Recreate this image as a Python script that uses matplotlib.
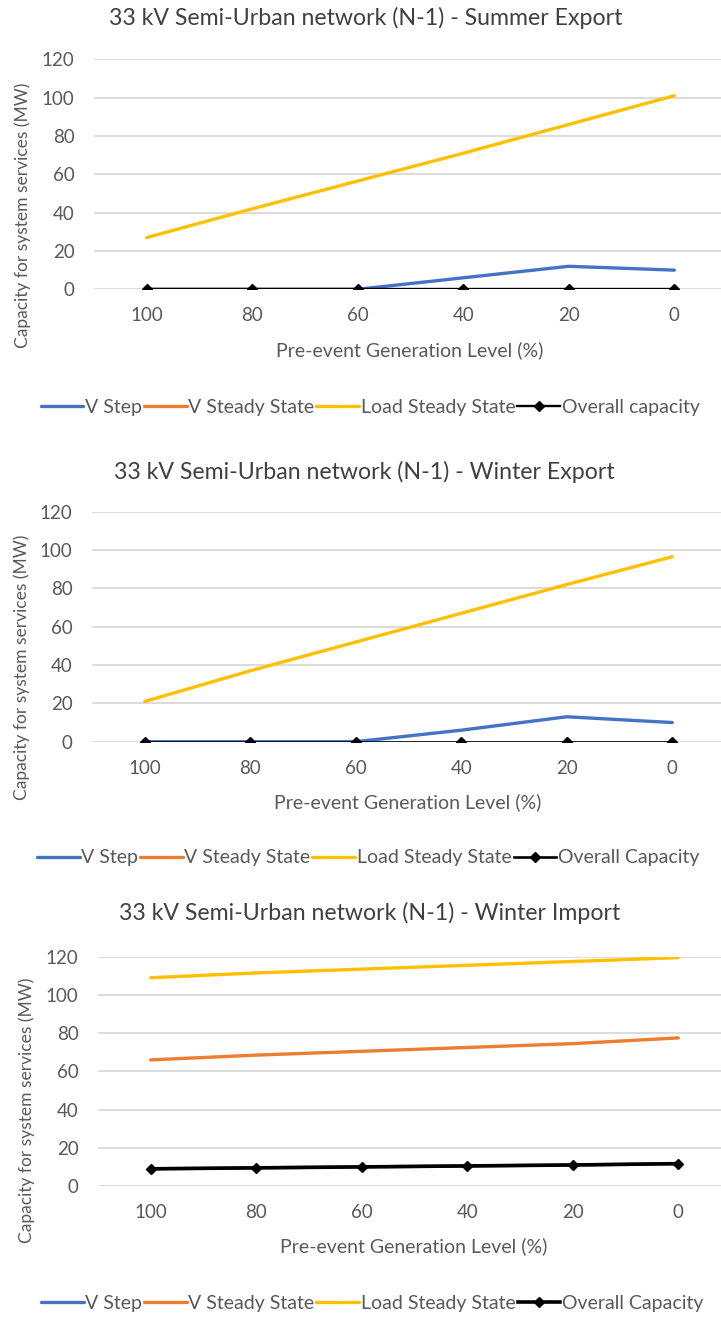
import matplotlib.pyplot as plt
import numpy as np

plt.rcParams['font.family'] = ['Lato', 'DejaVu Sans']

levels = ['100', '80', '60', '40', '20', '0']
series_names = ['V Step', 'V Steady State', 'Load Steady State']
nan = np.nan

# summer export
se_vstep = [0, 0, 0, 6, 12, 10]
se_vss = [nan, nan, nan, nan, nan, nan]
se_load = [27, 42, 56.5, 71, 86, 101]
se_overall = [0, 0, 0, 0, 0, 0]

# winter export
we_vstep = [0, 0, 0, 6, 13, 10]
we_vss = [nan, nan, nan, nan, nan, nan]
we_load = [21, 37, 52, 67, 82, 96.5]
we_overall = [0, 0, 0, 0, 0, 0]

# winter import
wi_vstep = [9, 9.5, 10, 10.5, 11, 11.7]
wi_vss = [66, 68.5, 70.5, 72.5, 74.5, 77.5]
wi_load = [109, 111.5, 113.5, 115.5, 117.5, 119.5]
wi_overall = [9, 9.5, 10, 10.5, 11, 11.7]

titles = ['33 kV Semi-Urban network (N-1) - Summer Export',
          '33 kV Semi-Urban network (N-1) - Winter Export',
          '33 kV Semi-Urban network (N-1) - Winter Import']
overall_names = ['Overall capacity', 'Overall Capacity', 'Overall Capacity']

W, H = 721, 1317
fig = plt.figure(figsize=(W / 100, H / 100), dpi=100)
txt = '#595959'
colors = ['#4472C4', '#ED7D31', '#FFC000']

# pixel layout per chart: axes (left, right, top, bottom), title, xlabel, ylabel, legend centres
layout = [
    dict(ax=(94, 727, 59.3, 289.3), title=(366, 18), xl=(410, 350), yl=(23, 215), leg=(370, 407), blw=1.7),
    dict(ax=(92, 725, 511.7, 741.7), title=(364, 472), xl=(408, 802), yl=(22, 667), leg=(368, 858), blw=1.9),
    dict(ax=(98, 731, 956.7, 1186), title=(370, 913), xl=(414, 1246), yl=(27, 1110), leg=(372, 1303), blw=2.6),
]
data = [
    (se_vstep, se_vss, se_load, se_overall),
    (we_vstep, we_vss, we_load, we_overall),
    (wi_vstep, wi_vss, wi_load, wi_overall),
]

x = np.arange(len(levels))
for i, lay in enumerate(layout):
    l, r, t, b = lay['ax']
    ax = fig.add_axes([l / W, 1 - b / H, (r - l) / W, (b - t) / H])
    vals = data[i]
    handles = []
    for j in range(3):
        h, = ax.plot(x, vals[j], color=colors[j], lw=2.4, label=series_names[j],
                     solid_capstyle='round')
        handles.append(h)
    h, = ax.plot(x, vals[3], color='black', lw=lay['blw'], marker='D', ms=5.5,
                 label=overall_names[i])
    handles.append(h)

    ax.set_xlim(-0.5, 5.5)
    ax.set_ylim(0, 120)
    ax.set_yticks(np.arange(0, 121, 20))
    ax.set_xticks(x)
    ax.set_xticklabels(levels)
    ax.tick_params(length=0, labelsize=13.5, labelcolor=txt)
    ax.tick_params(axis='x', pad=13)
    ax.tick_params(axis='y', pad=14)
    for s in ax.spines.values():
        s.set_visible(False)
    ax.grid(axis='y', color='#D9D9D9', lw=1.3)
    ax.set_axisbelow(True)

    tx, ty = lay['title']
    fig.text(tx / W, 1 - ty / H, titles[i], ha='center', va='center',
             fontsize=16.7, color='#404040')
    xx, xy = lay['xl']
    fig.text(xx / W, 1 - xy / H, 'Pre-event Generation Level (%)', ha='center',
             va='center', fontsize=14, color=txt)
    yx, yy = lay['yl']
    fig.text(yx / W, 1 - yy / H, 'Capacity for system services (MW)', ha='center',
             va='center', rotation=90, fontsize=12.5, color=txt)
    lx, ly = lay['leg']
    fig.legend(handles=handles, loc='center', bbox_to_anchor=(lx / W, 1 - ly / H),
               ncol=4, frameon=False, fontsize=14, labelcolor=txt,
               handlelength=2.2, handletextpad=0.08, columnspacing=0.1,
               borderaxespad=0)

fig.savefig('out.png', dpi=100)
